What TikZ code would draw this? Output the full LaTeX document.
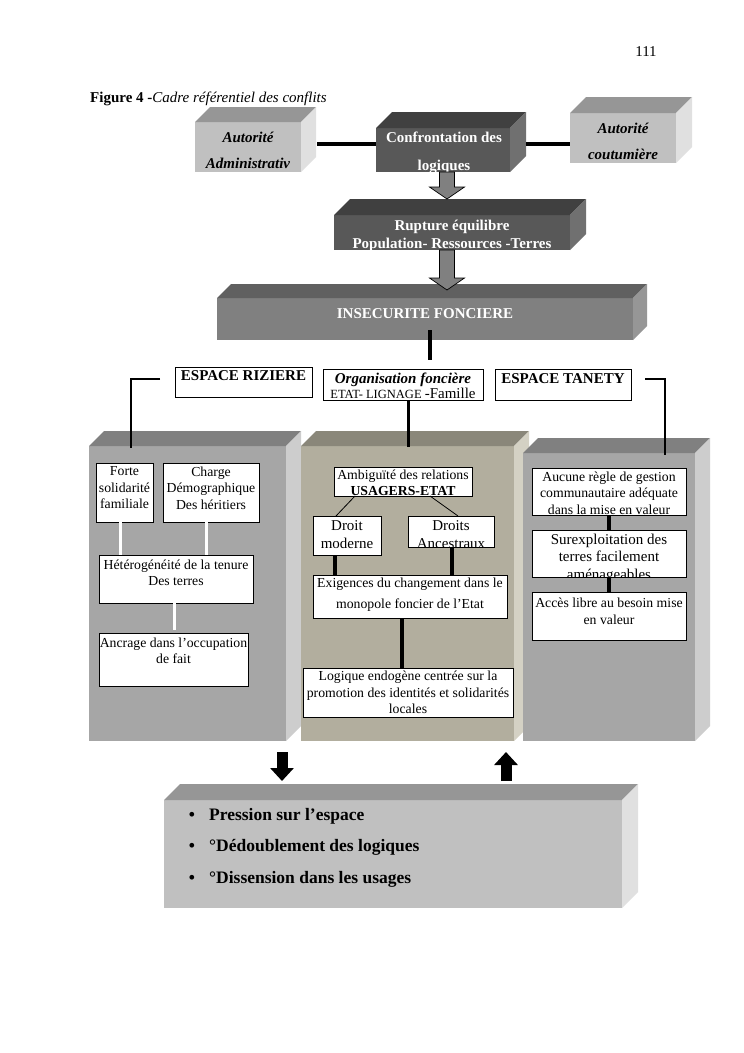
\documentclass[tikz,border=0pt]{standalone}
\usepackage{fontspec}
\setmainfont{Liberation Serif}
\usetikzlibrary{arrows.meta,calc}
\definecolor{ltF}{RGB}{192,192,192}
\definecolor{ltT}{RGB}{150,150,150}
\definecolor{ltS}{RGB}{224,224,224}
\definecolor{dkF}{RGB}{88,88,88}
\definecolor{dkT}{RGB}{64,64,64}
\definecolor{dkS}{RGB}{112,112,112}
\definecolor{mdF}{RGB}{128,128,128}
\definecolor{mdT}{RGB}{96,96,96}
\definecolor{mdS}{RGB}{150,150,150}
\definecolor{cgF}{RGB}{166,166,166}
\definecolor{cgT}{RGB}{128,128,128}
\definecolor{cgS}{RGB}{205,205,205}
\definecolor{khF}{RGB}{178,174,158}
\definecolor{khT}{RGB}{138,135,122}
\definecolor{khS}{RGB}{212,209,196}
\definecolor{arrg}{RGB}{128,128,128}
\newcommand\fA{\fontsize{15}{18}\selectfont}
\newcommand\fB{\fontsize{13.75}{16.5}\selectfont}
\newcommand\fC{\fontsize{17.5}{21}\selectfont}
\newcommand\fD{\fontsize{12.5}{15}\selectfont}
% 3D block: name x1 y1 x2 y2 depth colourprefix
\newcommand\cube[7]{%
 \node[inner sep=0pt, outer sep=0pt, anchor=north west, minimum width={(#4-#2)*1pt}, minimum height={(#5-#3)*1pt}, fill=#7F] (#1) at (#2,#3) {};
 \fill[#7T] (#1.north west) -- ++(#6,-#6) -- ([shift={(#6,-#6)}]#1.north east) -- (#1.north east) -- cycle;
 \fill[#7S] (#1.north east) -- ++(#6,-#6) -- ([shift={(#6,-#6)}]#1.south east) -- (#1.south east) -- cycle;
}
\newcommand\wbox[5]{\node[wb, minimum width={(#4-#2)*1pt}, minimum height={(#5-#3)*1pt}] (#1) at (#2,#3) {};}
\newcommand\garrow[3]{\draw[fill=arrg, line width=0.7pt, line join=miter] (#1) ++(-7.5,0) -- ++(15,0) -- ++(0,#2) -- ++(10,0) -- ++(-17.5,#3) -- ++(-17.5,-#3) -- ++(10,0) -- cycle;}
\tikzset{
 conn/.style={line width=4pt},
 conn2/.style={line width=2.5pt},
 wline/.style={white, line width=3pt},
 thinline/.style={line width=0.8pt},
 wb/.style={draw=black, line width=0.9pt, fill=white, inner sep=0pt, outer sep=0pt, anchor=north west},
 txt/.style={align=center, inner sep=0pt, font=\fB},
 bigtxt/.style={align=center, inner sep=0pt, font=\fA},
 blk/.style={-{Triangle[width=23pt,length=13pt]}, line width=11pt},
}
\begin{document}
\begin{tikzpicture}[x=1pt,y=-1pt]
\useasboundingbox (0,0) rectangle (744,1053);
\fill[white] (0,0) rectangle (744,1053);

\node[anchor=base, font=\fA] (pnum) at (646,56) {111};
\node[anchor=base west, font=\fA, inner sep=0pt] (title) at (90,102) {\textbf{Figure 4 -}\textit{Cadre référentiel des conflits}};

% top row
\cube{admin}{195}{122}{301}{172}{15}{lt}
\node[bigtxt, font=\fontsize{15}{26}\selectfont\bfseries\itshape] (admint) at (248,150) {Autorité\\Administrativ};
\cube{conf}{376}{128}{510}{172}{16}{dk}
\begin{scope}
\clip (conf.north west) rectangle (conf.south east);
\node[bigtxt, text=white, font=\fontsize{15}{28}\selectfont\bfseries] (conft) at (444,152.5) {Confrontation des\\logiques};
\end{scope}
\cube{cout}{570}{113}{676}{163}{16}{lt}
\node[bigtxt, font=\fontsize{15}{26}\selectfont\bfseries\itshape] (coutt) at (623,141) {Autorité\\coutumière};
\draw[conn] ([xshift=16pt,yshift=3pt]admin.east) -- ([yshift=6pt]conf.west);
\draw[conn] ([xshift=16pt,yshift=6pt]conf.east) -- ([yshift=-6pt]cout.west);

\cube{rupt}{334}{215}{570}{250}{16}{dk}
\begin{scope}
\clip (rupt.north west) rectangle (rupt.south east);
\node[bigtxt, text=white, font=\fontsize{15}{18}\selectfont\bfseries] (ruptt) at (452,236) {Rupture équilibre\\Population- Ressources -Terres};
\end{scope}
\garrow{[xshift=4pt]conf.south}{15}{12}

\cube{insec}{217}{298}{633}{340}{14}{md}
\node[bigtxt, text=white, font=\fA\bfseries] (insect) at (425,314) {INSECURITE FONCIERE};
\garrow{[xshift=-5pt]rupt.south}{28}{12}

% labels row
\wbox{riz}{175}{367}{312}{397}
\node[bigtxt, font=\fA\bfseries] (rizt) at (243.5,376) {ESPACE RIZIERE};
\wbox{org}{323}{369}{483}{400}
\begin{scope}
\clip (org.north west) rectangle (org.south east);
\node[bigtxt, font=\fontsize{15}{15.5}\selectfont] (orgt) at (403,386) {\textbf{\textit{Organisation foncière}}\\{\fD ETAT- LIGNAGE }-Famille};
\end{scope}
\draw[line width=0.9pt] (org.north west) rectangle (org.south east);
\wbox{tan}{495}{369}{631}{400}
\node[bigtxt, font=\fA\bfseries] (tant) at (563,379) {ESPACE TANETY};

\coordinate (insend) at (430,360);
\draw[conn] ([xshift=5pt,yshift=10pt]insec.south) -- (insend);

% columns
\cube{lcol}{89}{446}{286}{741}{15}{cg}
\cube{mcol}{301}{446}{514}{741}{15}{kh}
\cube{rcol}{523}{453}{695}{741}{15}{cg}

\coordinate (lfree) at (160,379);
\coordinate (rfree) at (645,379);
\draw[conn2] (lfree) -| ([shift={(42,2)}]lcol.north west);
\draw[conn2] (rfree) -| ([shift={(142,2)}]rcol.north west);
\draw[line width=3pt] ([xshift=5pt]org.south) -- ([xshift=5pt,yshift=-1pt]org.south |- mcol.north);

% left column
\wbox{forte}{96}{463}{153}{522}
\node[txt] (fortet) at (124.5,488) {Forte\\solidarité\\familiale};
\wbox{charge}{163}{463}{259}{522}
\node[txt] (charget) at (211,488) {Charge\\Démographique\\Des héritiers};
\wbox{hetero}{99}{555}{253}{603}
\node[txt] (heterot) at (176,573) {Hétérogénéité de la tenure\\Des terres};
\wbox{ancr}{99}{633}{248}{686}
\node[txt] (ancrt) at (173.5,651) {Ancrage dans l’occupation\\de fait};
\draw[wline] ([xshift=-4.5pt]forte.south) -- ([xshift=-4.5pt]forte.south |- hetero.north);
\draw[wline] ([xshift=-5pt]charge.south) -- ([xshift=-5pt]charge.south |- hetero.north);
\draw[wline] ([xshift=-2pt]hetero.south) -- ([xshift=-2pt,yshift=3pt]hetero.south |- ancr.north);

% middle column
\wbox{ambig}{334}{467}{472}{496}
\node[txt] (ambigt) at (403,483) {Ambiguïté des relations\\\textbf{USAGERS-ETAT}};
\wbox{droit}{313}{516}{381}{555}
\node[bigtxt] (droitt) at (347,534.5) {Droit\\moderne};
\wbox{droits}{408}{516}{494}{547}
\begin{scope}
\clip (droits.north west) rectangle (droits.south east);
\node[bigtxt] (droitst) at (451,534.5) {Droits\\Ancestraux};
\end{scope}
\draw[line width=0.9pt] (droits.north west) rectangle (droits.south east);
\draw[thinline] ([xshift=-48pt]ambig.south) -- ([xshift=-11pt]droit.north);
\draw[thinline] ([xshift=27pt]ambig.south) -- ([xshift=7pt]droits.north);
\wbox{exig}{313}{575}{507}{618}
\node[txt, font=\fontsize{13.75}{21}\selectfont] (exigt) at (410,594.5) {Exigences du changement dans le\\monopole foncier de l’Etat};
\draw[conn] ([xshift=-12pt]droit.south) -- ([xshift=-12pt]droit.south |- exig.north);
\draw[conn] ([xshift=1pt]droits.south) -- ([xshift=1pt]droits.south |- exig.north);
\wbox{logi}{303}{668}{513}{717}
\node[txt] (logit) at (408,692.5) {Logique endogène centrée sur la\\promotion des identités et solidarités\\locales};
\draw[conn] ([xshift=-8pt]exig.south) -- ([xshift=-8pt]exig.south |- logi.north);

% right column
\wbox{auc}{532}{468}{686}{515}
\node[txt] (auct) at (609,493) {Aucune règle de gestion\\communautaire adéquate\\dans la mise en valeur};
\wbox{sur}{532}{530}{686}{577}
\begin{scope}
\clip (sur.north west) rectangle (sur.south east);
\node[bigtxt, font=\fontsize{15}{17.5}\selectfont] (surt) at (609,558) {Surexploitation des\\terres facilement\\aménageables};
\end{scope}
\draw[line width=0.9pt] (sur.north west) rectangle (sur.south east);
\wbox{acc}{532}{592}{686}{640}
\node[txt] (acct) at (609,611.5) {Accès libre au besoin mise\\en valeur};
\draw[conn] (auc.south) -- (sur.north);
\draw[conn] (sur.south) -- (acc.north);

% bottom
\coordinate (da1) at (282,752);
\coordinate (da2) at (282,781);
\coordinate (ua1) at (506,781);
\coordinate (ua2) at (506,752);
\draw[blk] (da1) -- (da2);
\draw[blk] (ua1) -- (ua2);
\cube{bot}{164}{800}{622}{908}{16}{lt}
\node[anchor=base, font=\fC\bfseries, inner sep=0pt] (b1) at (192,820) {\textbullet};
\node[anchor=base west, font=\fC\bfseries, inner sep=0pt] (l1) at (209,820) {Pression sur l’espace};
\node[anchor=base, font=\fC\bfseries, inner sep=0pt] (b2) at (192,851) {\textbullet};
\node[anchor=base west, font=\fC\bfseries, inner sep=0pt] (l2) at (209,851) {°Dédoublement des logiques};
\node[anchor=base, font=\fC\bfseries, inner sep=0pt] (b3) at (192,883) {\textbullet};
\node[anchor=base west, font=\fC\bfseries, inner sep=0pt] (l3) at (209,883) {°Dissension dans les usages};
\end{tikzpicture}
\end{document}
